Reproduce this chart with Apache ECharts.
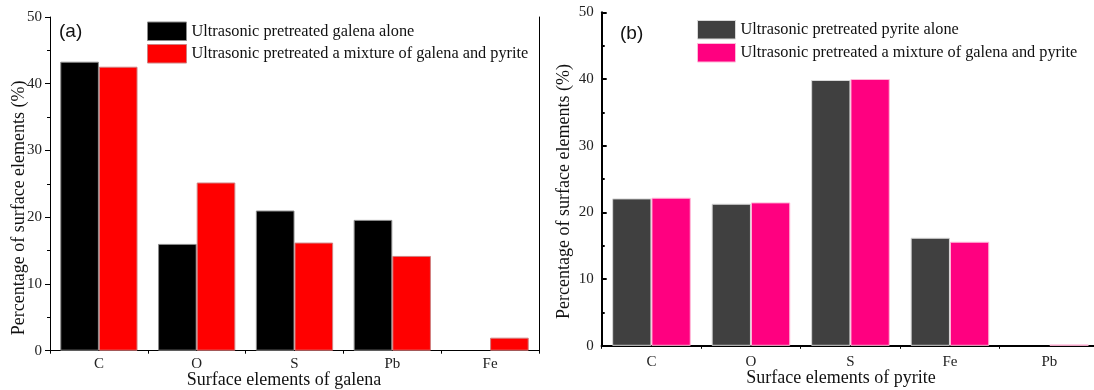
<!DOCTYPE html>
<html>
<head>
<meta charset="utf-8">
<script src="https://cdn.jsdelivr.net/npm/echarts@6/dist/echarts.min.js"></script>
<style>
  html, body { margin: 0; padding: 0; background: #fff; }
  #chart { width: 1094px; height: 390px; }
</style>
</head>
<body>
<div id="chart"></div>
<script>
// panel (a): galena
const galenaElements = ["C", "O", "S", "Pb", "Fe"];
const galenaAlone = [43.3, 16.0, 21.0, 19.6, 0];
const galenaMixture = [42.55, 25.2, 16.2, 14.2, 1.95];

// panel (b): pyrite
const pyriteElements = ["C", "O", "S", "Fe", "Pb"];
const pyriteAlone = [22.1, 21.3, 39.85, 16.2, 0];
const pyriteMixture = [22.2, 21.5, 40.0, 15.6, 0.2];

const legendA = ["Ultrasonic pretreated galena alone", "Ultrasonic pretreated a mixture of galena and pyrite"];
const legendB = ["Ultrasonic pretreated pyrite alone", "Ultrasonic pretreated a mixture of galena and pyrite"];

const serif = "Liberation Serif";
const sans = "Liberation Sans";

const colorsA = [
  { color: "#000000", borderColor: "#8a8a8a" },
  { color: "#ff0000", borderColor: "#d08080" },
];
const colorsB = [
  { color: "#404040", borderColor: "#d8d8d8" },
  { color: "#ff0080", borderColor: "#ffb8d8" },
];

const chart = echarts.init(document.getElementById("chart"));

const yBase = (gridIndex, lineWidth, inside, nameGap, namePad) => ({
  type: "value",
  gridIndex: gridIndex,
  min: 0,
  max: 50,
  interval: 10,
  name: "Percentage of surface elements (%)",
  nameLocation: "middle",
  nameGap: nameGap,
  nameMoveOverlap: false,
  nameTextStyle: { fontFamily: serif, fontSize: 18, color: "#111", padding: namePad },
  axisLine: { show: true, lineStyle: { color: "#000", width: lineWidth } },
  axisTick: { show: true, inside: inside, length: 5, lineStyle: { color: "#000", width: lineWidth } },
  minorTick: { show: true, splitNumber: 2, length: 3, lineStyle: { color: "#000", width: lineWidth } },
  splitLine: { show: false },
  axisLabel: { fontFamily: serif, fontSize: 15, color: "#222", margin: 8 },
});

const frameY = (gridIndex, lineWidth) => ({
  type: "value",
  gridIndex: gridIndex,
  position: "right",
  min: 0,
  max: 50,
  interval: 10,
  axisLine: { show: true, lineStyle: { color: "#000", width: lineWidth } },
  axisTick: { show: false },
  axisLabel: { show: false },
  splitLine: { show: false },
});

const xBase = (gridIndex, cats, lineWidth, nameGap, namePad, name, labelMargin, ticks) => ({
  type: "category",
  gridIndex: gridIndex,
  data: cats,
  name: name,
  nameLocation: "middle",
  nameGap: nameGap,
  nameMoveOverlap: false,
  nameTextStyle: { fontFamily: serif, fontSize: 18, color: "#111", padding: namePad },
  axisLine: { show: true, lineStyle: { color: "#000", width: lineWidth } },
  axisTick: { show: ticks, length: 2, lineStyle: { color: "#000" } },
  axisLabel: { fontFamily: serif, fontSize: 15, color: "#222", margin: labelMargin },
  splitLine: { show: false },
});

const frameX = (gridIndex, cats, lineWidth) => ({
  type: "category",
  gridIndex: gridIndex,
  data: cats,
  position: "top",
  axisLine: { show: true, lineStyle: { color: "#000", width: lineWidth } },
  axisTick: { show: true, inside: true, length: 3, lineStyle: { color: "#000" } },
  axisLabel: { show: false },
  splitLine: { show: false },
});

// zero-height bars are left without an outline, like in the original
const barData = (values) =>
  values.map((v) => (v === 0 ? { value: v, itemStyle: { borderWidth: 0 } } : v));

const bar = (name, data, xi, yi, style) => ({
  name: name,
  type: "bar",
  xAxisIndex: xi,
  yAxisIndex: yi,
  data: barData(data),
  barGap: "0%",
  barCategoryGap: "21%",
  itemStyle: { color: style.color, borderColor: style.borderColor, borderWidth: 1 },
  emphasis: { disabled: true },
});

const legendStyle = { fontFamily: serif, fontSize: 16.3, color: "#111" };

const legendItems = (names, styles) =>
  names.map((n, i) => ({
    name: n,
    itemStyle: { color: styles[i].color, borderColor: styles[i].borderColor, borderWidth: 1 },
  }));

const options = {
  animation: false,
  textStyle: { fontFamily: serif },
  grid: [
    { left: 50, top: 17, width: 489, height: 333.7, outerBoundsMode: "none", containLabel: false },
    { left: 601.7, top: 12.3, width: 497.5, height: 333.5, outerBoundsMode: "none", containLabel: false },
  ],
  legend: [
    {
      data: legendItems(legendA, colorsA),
      orient: "vertical",
      left: 147,
      top: 21.5,
      padding: 0,
      itemWidth: 39,
      itemHeight: 18.5,
      itemGap: 3,
      icon: "rect",
      selectedMode: false,
      textStyle: legendStyle,
    },
    {
      data: legendItems(legendB, colorsB),
      orient: "vertical",
      left: 697,
      top: 20,
      padding: 0,
      itemWidth: 38,
      itemHeight: 18.5,
      itemGap: 3.5,
      icon: "rect",
      selectedMode: false,
      textStyle: legendStyle,
    },
  ],
  xAxis: [
    xBase(0, galenaElements, 1, 21, [0, 21, 0, 0], "Surface elements of galena", 6, true),
    frameX(0, galenaElements, 1),
    xBase(1, pyriteElements, 2, 23, [0, 19, 0, 0], "Surface elements of pyrite", 9, false),
    frameX(1, pyriteElements, 2),
  ],
  yAxis: [
    yBase(0, 1, false, 22, [0, 48, 0, 0]),
    frameY(0, 1),
    yBase(1, 2, true, 28, [0, 25, 0, 0]),
    frameY(1, 2),
  ],
  series: [
    bar(legendA[0], galenaAlone, 0, 0, colorsA[0]),
    bar(legendA[1], galenaMixture, 0, 0, colorsA[1]),
    bar(legendB[0], pyriteAlone, 2, 2, colorsB[0]),
    bar(legendB[1], pyriteMixture, 2, 2, colorsB[1]),
  ],
  graphic: [
    { type: "text", left: 59, top: 22, style: { text: "(a)", font: "19px " + sans, fill: "#111" } },
    { type: "text", left: 620, top: 24, style: { text: "(b)", font: "19px " + sans, fill: "#111" } },
  ],
};

chart.setOption(options);
</script>
</body>
</html>
